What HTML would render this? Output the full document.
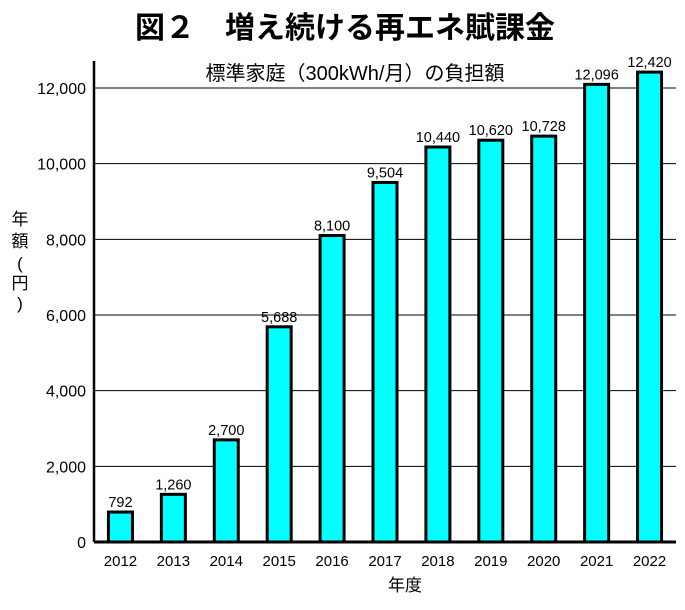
<!DOCTYPE html>
<html><head><meta charset="utf-8"><style>
body{margin:0;background:#fff;}
svg text{font-family:"Liberation Sans","Noto Sans CJK JP",sans-serif;}
</style></head><body>
<svg width="685" height="605" viewBox="0 0 685 605">
<text x="345" y="38" text-anchor="middle" font-size="30" font-weight="bold">図２　増え続ける再エネ賦課金</text>
<text x="355" y="80" text-anchor="middle" font-size="20">標準家庭（300kWh/月）の負担額</text>
<g id="grid"></g><g id="bars"></g><g id="labels"></g><g id="axes"></g>
<text x="20" y="225" font-size="17" text-anchor="middle"><tspan x="20" dy="0">年</tspan><tspan x="20" dy="22">額</tspan><tspan x="20" dy="22">(</tspan><tspan x="20" dy="20">円</tspan><tspan x="20" dy="20">)</tspan></text>
<text x="405" y="591" text-anchor="middle" font-size="17">年度</text>
</svg>
<script>
const categories=["2012","2013","2014","2015","2016","2017","2018","2019","2020","2021","2022"];
const values=[792,1260,2700,5688,8100,9504,10440,10620,10728,12096,12420];
const valueLabels=["792","1,260","2,700","5,688","8,100","9,504","10,440","10,620","10,728","12,096","12,420"];
const yTicks=[0,2000,4000,6000,8000,10000,12000];
const yTickLabels=["0","2,000","4,000","6,000","8,000","10,000","12,000"];
const NS="http://www.w3.org/2000/svg";
const x0=94,x1=676,y0=542,step=(x1-x0)/categories.length,bw=24;
const y=v=>y0-v*(454/12000);
const xc=i=>x0+step*(i+0.5);
function mk(t,a,p){const e=document.createElementNS(NS,t);for(const k in a)e.setAttribute(k,a[k]);p.appendChild(e);return e;}
const g=document.getElementById('grid'),b=document.getElementById('bars'),l=document.getElementById('labels'),ax=document.getElementById('axes');
yTicks.forEach((t,i)=>{
 if(t>0){const ln=mk('line',{x1:x0,x2:x1,y1:y(t),y2:y(t),stroke:'#000','stroke-width':1},g);
 }
 const tx=mk('text',{x:86,y:y(t)+6,'text-anchor':'end','font-size':16},g);tx.textContent=yTickLabels[i];
 
});
categories.forEach((c,i)=>{
 const r=mk('rect',{x:xc(i)-bw/2,y:y(values[i]),width:bw,height:y0-y(values[i]),fill:'#00ffff',stroke:'#000','stroke-width':3},b);
 
 const t=mk('text',{x:xc(i),y:y(values[i])-5,'text-anchor':'middle','font-size':14.5},l);t.textContent=valueLabels[i];
 
 const xt=mk('text',{x:xc(i),y:566,'text-anchor':'middle','font-size':15},l);xt.textContent=c;
 
});
const ya=mk('line',{x1:x0,x2:x0,y1:61,y2:y0,stroke:'#000','stroke-width':2.5},ax);

const xa=mk('line',{x1:x0,x2:x1,y1:y0,y2:y0,stroke:'#000','stroke-width':3},ax);

</script>
</body></html>
